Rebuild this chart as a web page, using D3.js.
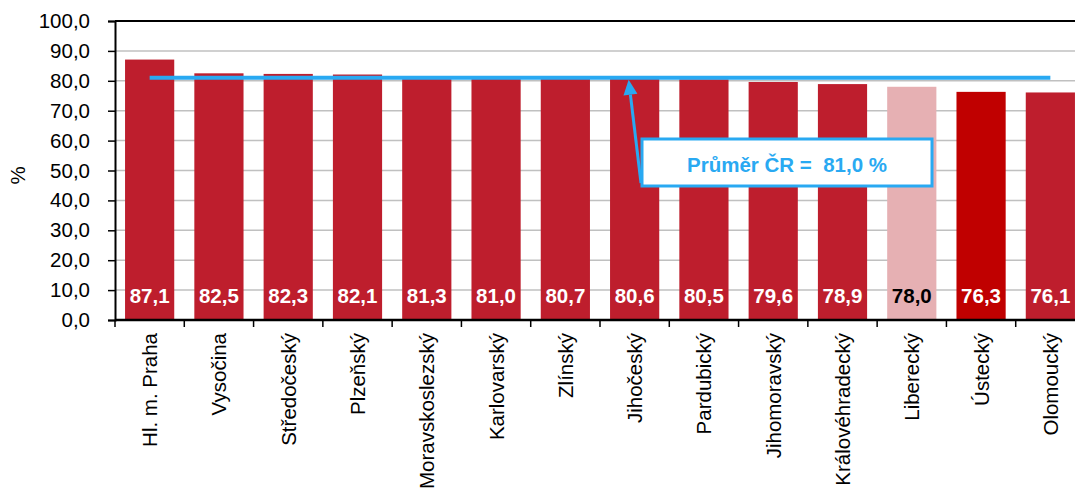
<!DOCTYPE html>
<html><head><meta charset="utf-8">
<script src="https://cdn.jsdelivr.net/npm/d3@7"></script>
<style>body{margin:0;background:#fff}svg{display:block;font-family:"Liberation Sans",Arial,sans-serif}</style>
</head><body>
<svg id="c" width="1075" height="493"></svg>
<script>
const categories = ["Hl. m. Praha","Vysočina","Středočeský","Plzeňský","Moravskoslezský","Karlovarský","Zlínský","Jihočeský","Pardubický","Jihomoravský","Královéhradecký","Liberecký","Ústecký","Olomoucký"];
const values = [87.1,82.5,82.3,82.1,81.3,81.0,80.7,80.6,80.5,79.6,78.9,78.0,76.3,76.1];
const average = 81.0;
const averageLabel = "Průměr ČR =  81,0 %";
const yTicks = [0,10,20,30,40,50,60,70,80,90,100];
const yTitle = "%";

(function(){
const svg = d3.select("#c");
const pL = 115, pR = 1085, pT = 21, pB = 320;
const FS = 20.5;
const x = d3.scaleBand().domain(categories).range([pL, pR]).paddingInner(0.29).paddingOuter(0.145);
const y = d3.scaleLinear().domain([0,100]).range([pB, pT]);
const fmt = v => d3.format(".1f")(v).replace(".", ",");

// grid
svg.append("g").selectAll("line").data(yTicks.filter(t => t > 0 && t < 100)).join("line")
  .attr("x1", pL).attr("x2", 1075).attr("y1", d => y(d)).attr("y2", d => y(d))
  .attr("stroke", "#c0c0c0").attr("stroke-width", 1.5);
// top border
svg.append("line").attr("x1", pL).attr("x2", 1075).attr("y1", y(100)).attr("y2", y(100))
  .attr("stroke", "#000").attr("stroke-width", 2);

function color(d){
  if (d === "Liberecký") return "#e6b0b3";
  if (d === "Ústecký") return "#c00000";
  return "#be1e2d";
}
svg.append("g").selectAll("rect").data(categories).join("rect")
  .attr("x", d => x(d)).attr("width", x.bandwidth())
  .attr("y", (d,i) => y(values[i])).attr("height", (d,i) => y(0) - y(values[i]))
  .attr("fill", color);

svg.append("g").selectAll("text").data(categories).join("text")
  .attr("x", d => x(d) + x.bandwidth()/2).attr("y", 303)
  .attr("text-anchor", "middle").attr("font-weight", "bold").attr("font-size", FS)
  .attr("fill", d => d === "Liberecký" ? "#000" : "#fff")
  .text((d,i) => fmt(values[i]));

// y axis
const ya = svg.append("g").attr("transform", `translate(${pL},0)`)
  .call(d3.axisLeft(y).tickValues(yTicks).tickFormat(fmt).tickSize(7).tickPadding(18));
ya.select(".domain").attr("stroke", "#000").attr("stroke-width", 2);
ya.selectAll(".tick line").attr("stroke", "#000").attr("stroke-width", 1.5);
ya.selectAll("text").attr("font-size", FS).attr("fill", "#000").attr("font-family", "Liberation Sans, Arial, sans-serif");

// x axis
const xTickPos = categories.map(d => x(d) - x.step()*x.paddingInner()/2);
xTickPos.push(pR);
svg.append("line").attr("x1", pL).attr("x2", 1075).attr("y1", pB).attr("y2", pB)
  .attr("stroke", "#000").attr("stroke-width", 2.5);
svg.append("g").selectAll("line").data(xTickPos).join("line")
  .attr("x1", d => d).attr("x2", d => d).attr("y1", pB).attr("y2", pB + 7)
  .attr("stroke", "#000").attr("stroke-width", 1.5);
svg.append("g").selectAll("text").data(categories).join("text")
  .attr("transform", d => `translate(${x(d) + x.bandwidth()/2 + 7.5},${pB + 13}) rotate(-90)`)
  .attr("text-anchor", "end").attr("font-size", FS).attr("fill", "#000")
  .text(d => d);

// y title
svg.append("text").attr("transform", `translate(25,${(pT+pB)/2 + 5}) rotate(-90)`)
  .attr("text-anchor", "middle").attr("font-size", FS).text(yTitle);

// average line
const blue = "#29a9f2";
svg.append("line")
  .attr("x1", x(categories[0]) + x.bandwidth()/2).attr("x2", x(categories[categories.length-1]) + x.bandwidth()/2)
  .attr("y1", y(average)).attr("y2", y(average))
  .attr("stroke", blue).attr("stroke-width", 4);

// callout arrow
const tipX = x("Jihočeský") + x.bandwidth()/2 - 6, tipY = y(average) + 2;
const baseX = 641, baseY = 183;
const ang = Math.atan2(tipY - baseY, tipX - baseX);
const hl = 15, hw = 7;
const bx = tipX - hl*Math.cos(ang), by = tipY - hl*Math.sin(ang);
svg.append("line").attr("x1", baseX).attr("y1", baseY).attr("x2", bx).attr("y2", by)
  .attr("stroke", blue).attr("stroke-width", 3);
svg.append("path")
  .attr("d", `M${tipX},${tipY} L${bx + hw*Math.sin(ang)},${by - hw*Math.cos(ang)} L${bx - hw*Math.sin(ang)},${by + hw*Math.cos(ang)} Z`)
  .attr("fill", blue);

// callout box
svg.append("rect").attr("x", 642).attr("y", 139).attr("width", 290).attr("height", 47)
  .attr("fill", "#fff").attr("stroke", blue).attr("stroke-width", 3);
svg.append("text").attr("x", 787).attr("y", 172).attr("text-anchor", "middle")
  .attr("font-weight", "bold").attr("font-size", FS).attr("fill", blue)
  .style("white-space", "pre")
  .text(averageLabel);
})();
</script>
</body></html>
